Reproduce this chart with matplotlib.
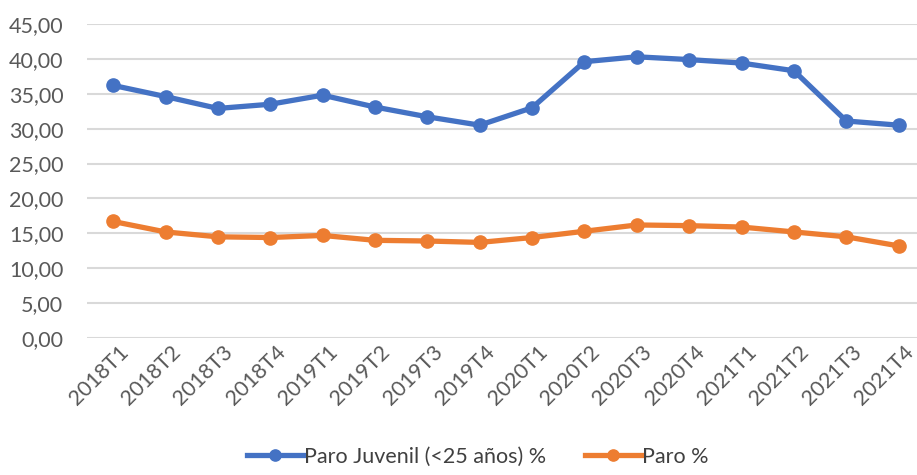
import matplotlib
matplotlib.use("Agg")
import matplotlib.pyplot as plt
from matplotlib.ticker import FuncFormatter
from matplotlib.transforms import ScaledTranslation

quarters = ["2018T1", "2018T2", "2018T3", "2018T4", "2019T1", "2019T2", "2019T3", "2019T4",
            "2020T1", "2020T2", "2020T3", "2020T4", "2021T1", "2021T2", "2021T3", "2021T4"]
paro_juvenil = [36.2, 34.6, 32.9, 33.5, 34.8, 33.1, 31.7, 30.5,
                33.0, 39.6, 40.3, 39.9, 39.4, 38.3, 31.1, 30.5]
paro = [16.7, 15.2, 14.5, 14.4, 14.7, 14.0, 13.9, 13.7,
        14.4, 15.3, 16.2, 16.1, 15.9, 15.2, 14.5, 13.2]
series_names = ["Paro Juvenil (<25 años) %", "Paro %"]
yticks = [0, 5, 10, 15, 20, 25, 30, 35, 40, 45]

plt.rcParams['font.family'] = ['Lato', 'DejaVu Sans']

fig = plt.figure(figsize=(9.17, 4.75), dpi=100)
ax = fig.add_axes([87/917, (475-338)/475, 1 - 87/917, (338-24)/475])

x = list(range(len(quarters)))
blue = "#4472C4"
orange = "#ED7D31"
ax.plot(x, paro_juvenil, color=blue, lw=3.8, marker='o', ms=9.5, label=series_names[0], zorder=3)
ax.plot(x, paro, color=orange, lw=3.8, marker='o', ms=9.5, label=series_names[1], zorder=3)

ax.set_ylim(0, 45)
ax.set_xlim(-0.5, 15.35)
ax.set_yticks(yticks)
ax.yaxis.set_major_formatter(FuncFormatter(lambda v, p: f"{v:.2f}".replace('.', ',')))
ax.set_xticks(x)
ax.set_xticklabels(quarters, rotation=45, ha='right', rotation_mode='anchor')
ax.grid(axis='y', color='#d9d9d9', lw=1.5, zorder=0)
ax.set_axisbelow(True)
for s in ax.spines.values():
    s.set_visible(False)
ax.tick_params(axis='both', length=0, labelsize=15.5, colors='#595959')
ax.tick_params(axis='x', pad=3)
ax.tick_params(axis='y', pad=17)
offset = ScaledTranslation(5/100, 0, fig.dpi_scale_trans)
for lab in ax.get_xticklabels():
    lab.set_transform(lab.get_transform() + offset)

leg = fig.legend(loc='center', bbox_to_anchor=(0.521, 0.038), ncol=2, frameon=False,
                 fontsize=15.5, handlelength=2.6, columnspacing=1.8, handletextpad=0.05,
                 markerscale=0.85)
for t in leg.get_texts():
    t.set_color('#404040')

fig.savefig("out.png", dpi=100)
